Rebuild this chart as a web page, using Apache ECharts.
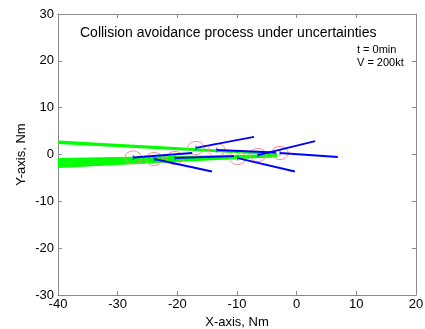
<!DOCTYPE html>
<html><head><meta charset="utf-8">
<script src="https://cdn.jsdelivr.net/npm/echarts@6/dist/echarts.min.js"></script>
<style>html,body{margin:0;padding:0;background:#fff}#c{width:425px;height:329px}</style>
</head><body><div id="c"></div>
<script>
// Axis ticks
var xTicks = [-40, -30, -20, -10, 0, 10, 20];
var yTicks = [-30, -20, -10, 0, 10, 20, 30];
// Aircraft positions (circle centres) and velocity-vector tips, Nm
var acX    = [-27.4, -23.9, -20.4, -16.9, -13.4, -9.9, -6.5, -2.8];
var acY    = [-0.64, -0.96, -0.75, 1.39, 0.96, -0.75, -0.11, 0.32];
var tipX   = [-17.5, -14.2, -10.5, -7.15, -3.5, -0.3, 3.1, 6.9];
var tipY   = [0.32, -3.63, -0.35, 3.74, 0.43, -3.63, 2.88, -0.53];
var sepRadius = 1.4;
// Uncertain trajectories (green): start at left edge, end near convergence
var trStartX = [-40, -40, -40, -40, -40, -40, -40];
var trStartY = [2.75, 2.5, -0.96, -1.39, -1.82, -2.24, -2.67];
var trEndX   = [-3.3, -3.3, -3.3, -3.5, -3.3, -3.6, -3.3];
var trEndY   = [0.15, 0.05, -0.2, -0.3, -0.25, -0.35, -0.3];

var series = [];
for (var i = 0; i < trStartX.length; i++) {
  series.push({type:'line', data:[[trStartX[i],trStartY[i]],[trEndX[i],trEndY[i]]],
    symbol:'none', silent:true, lineStyle:{color:'#00ff00', width:2.2}, z:2});
}
for (var k = 0; k < acX.length; k++) {
  var pts = [];
  for (var a = 0; a <= 48; a++) {
    var t = a / 48 * 2 * Math.PI;
    pts.push([acX[k] + sepRadius*Math.cos(t), acY[k] + sepRadius*Math.sin(t)]);
  }
  series.push({type:'line', data:pts, symbol:'none', silent:true, smooth:false,
    lineStyle:{color:'#ff8c8c', width:1}, z:3});
}
for (var j = 0; j < acX.length; j++) {
  series.push({type:'line', data:[[acX[j],acY[j]],[tipX[j],tipY[j]]],
    symbol:'none', silent:true, lineStyle:{color:'#0000ff', width:1.8}, z:4});
}
series.push({type:'scatter', data:acX.map(function(v,i){return [v,acY[i]];}),
  symbol:'rect', symbolSize:[1.2,5], itemStyle:{color:'#3333ff'}, silent:true, z:5});

var axisLine = {show:true, onZero:false, lineStyle:{color:'#8a8a8a', width:1}};
var tickIn = {show:true, inside:true, length:4, lineStyle:{color:'#8a8a8a'}};
var lbl = {color:'#000', fontFamily:'Liberation Sans', fontSize:13};
var chart = echarts.init(document.getElementById('c'), null, {renderer:'canvas'});
chart.setOption({
  animation:false,
  grid:{left:58, right:9, top:14, bottom:34, containLabel:false, outerBoundsMode:'none'},
  xAxis:[
    {type:'value', min:xTicks[0], max:xTicks[xTicks.length-1], interval:10, position:'bottom',
     axisLine:axisLine, axisTick:tickIn, splitLine:{show:false},
     axisLabel:Object.assign({margin:3}, lbl),
     name:'X-axis, Nm', nameLocation:'middle', nameGap:20,
     nameTextStyle:{color:'#000', fontFamily:'Liberation Sans', fontSize:13}},
    {type:'value', min:xTicks[0], max:xTicks[xTicks.length-1], interval:10, position:'top',
     axisLine:axisLine, axisTick:tickIn, axisLabel:{show:false}, splitLine:{show:false}}
  ],
  yAxis:[
    {type:'value', min:yTicks[0], max:yTicks[yTicks.length-1], interval:10, position:'left',
     axisLine:axisLine, axisTick:tickIn, splitLine:{show:false},
     axisLabel:Object.assign({margin:4}, lbl),
     name:'Y-axis, Nm', nameLocation:'middle', nameGap:30, nameMoveOverlap:false,
     nameTextStyle:{color:'#000', fontFamily:'Liberation Sans', fontSize:13}},
    {type:'value', min:yTicks[0], max:yTicks[yTicks.length-1], interval:10, position:'right',
     axisLine:axisLine, axisTick:tickIn, axisLabel:{show:false}, splitLine:{show:false}}
  ],
  graphic:[
    {type:'text', left:80, top:26, style:{text:'Collision avoidance process under uncertainties',
      font:'14px "Liberation Sans"', fill:'#000'}},
    {type:'text', left:357, top:44, style:{text:'t = 0min', font:'11px "Liberation Sans"', fill:'#000'}},
    {type:'text', left:357, top:57, style:{text:'V = 200kt', font:'11px "Liberation Sans"', fill:'#000'}}
  ],
  series:series
});
</script></body></html>
